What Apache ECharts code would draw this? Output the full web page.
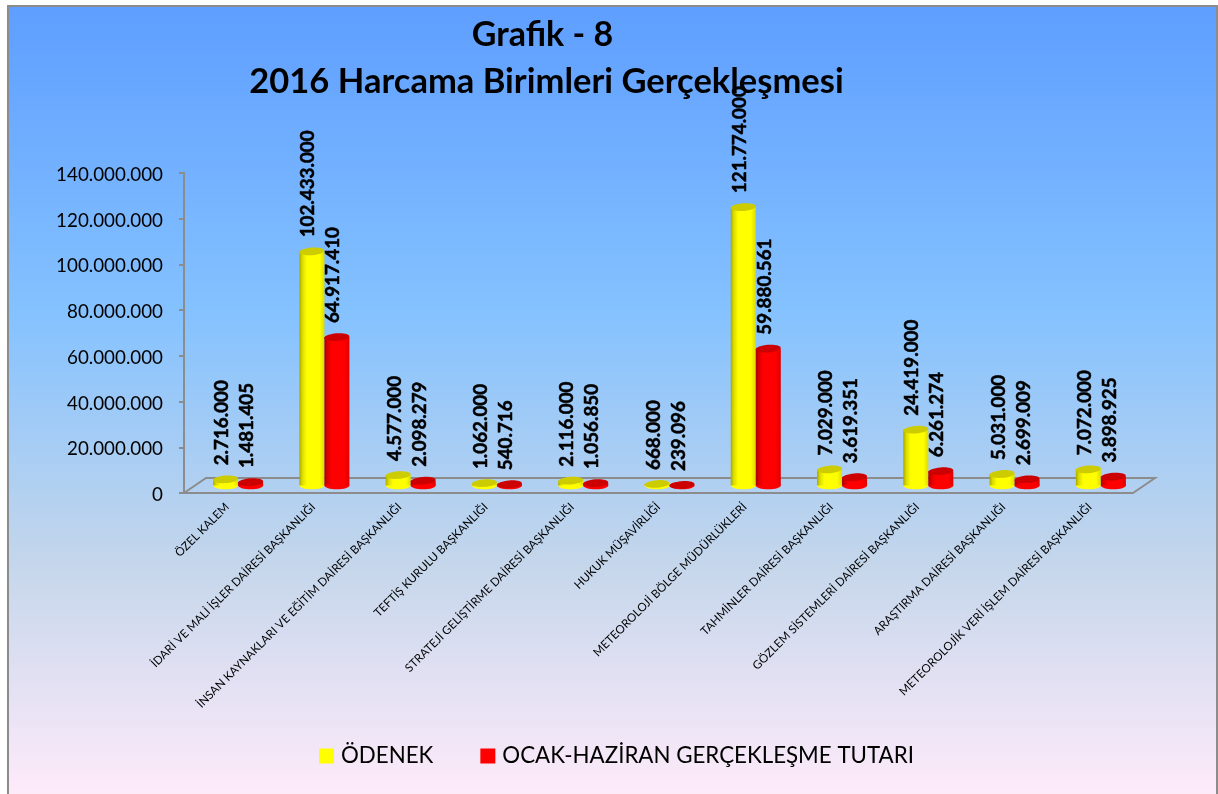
<!DOCTYPE html>
<html>
<head>
<meta charset="utf-8">
<title>Grafik - 8</title>
<script src="https://cdn.jsdelivr.net/npm/echarts@6/dist/echarts.min.js"></script>
<style>
  html, body { margin: 0; padding: 0; background: #fff; }
  #chart { width: 1218px; height: 794px; }
</style>
</head>
<body>
<div id="chart"></div>
<script>
const categories = [
  "ÖZEL KALEM",
  "İDARİ VE MALİ İŞLER DAİRESİ BAŞKANLIĞI",
  "İNSAN KAYNAKLARI VE EĞİTİM DAİRESİ BAŞKANLIĞI",
  "TEFTİŞ KURULU BAŞKANLIĞI",
  "STRATEJİ GELİŞTİRME DAİRESİ BAŞKANLIĞI",
  "HUKUK MÜŞAVİRLİĞİ",
  "METEOROLOJİ BÖLGE MÜDÜRLÜKLERİ",
  "TAHMİNLER DAİRESİ BAŞKANLIĞI",
  "GÖZLEM SİSTEMLERİ DAİRESİ BAŞKANLIĞI",
  "ARAŞTIRMA DAİRESİ BAŞKANLIĞI",
  "METEOROLOJİK VERİ İŞLEM DAİRESİ BAŞKANLIĞI"
];
const odenek = [2716000, 102433000, 4577000, 1062000, 2116000, 668000, 121774000, 7029000, 24419000, 5031000, 7072000];
const gerceklesme = [1481405, 64917410, 2098279, 540716, 1056850, 239096, 59880561, 3619351, 6261274, 2699009, 3898925];

const FONT = "Lato";
const AXIS_GREY = "#8c8c8c";
// 3d look: how far the floor runs back, and how high the bars stand on it
const DEPTH_X = 22, DEPTH_Y = 15, LIFT = 7.5;

function dots(v) {
  return String(v).replace(/\B(?=(\d{3})+$)/g, ".");
}

function cylinder(dark, mid, side, top, place) {
  return function (params, api) {
    const i = api.value(0), v = api.value(1);
    const p = api.coord([i, v]);
    const p0 = api.coord([i, 0]);
    const w = api.size([1, 0])[0] * 0.29;
    const cx = p[0] + 11 + place * w / 2;
    const yTop = p[1] - LIFT, yBase = p0[1] - LIFT;
    const rx = w / 2, ry = 3.8, tilt = 0.07;
    return {
      type: "group",
      children: [
        { type: "ellipse", shape: { cx: 0, cy: 0, rx: rx, ry: ry }, x: cx, y: yBase,
          style: { fill: mid } },
        { type: "rect", shape: { x: cx - rx, y: yTop, width: w, height: yBase - yTop },
          style: { fill: new echarts.graphic.LinearGradient(0, 0, 1, 0, [
            { offset: 0, color: dark },
            { offset: 0.12, color: side },
            { offset: 0.3, color: mid },
            { offset: 0.8, color: mid },
            { offset: 1, color: side }
          ]) } },
        { type: "ellipse", shape: { cx: 0, cy: 0, rx: rx, ry: ry }, x: cx, y: yTop, rotation: tilt,
          style: { fill: top } },
        // thin stroke: the rotated bold text comes out too light otherwise
        { type: "text", x: cx - 3.5, y: yTop - 14, rotation: Math.PI / 2,
          style: { text: dots(v), fill: "#000", stroke: "#000", lineWidth: 0.5, fontFamily: FONT, fontWeight: "bold", fontSize: 18.8, align: "left", verticalAlign: "middle" } }
      ]
    };
  };
}

function floor(params, api) {
  const r = params.coordSys;
  const x0 = r.x, x1 = r.x + r.width, y = r.y + r.height;
  return {
    type: "polyline",
    shape: { points: [[x0, y], [x0 + DEPTH_X, y - DEPTH_Y], [x1 + DEPTH_X, y - DEPTH_Y], [x1, y]] },
    style: { stroke: AXIS_GREY, lineWidth: 2, fill: "none" }
  };
}

const chart = echarts.init(document.getElementById("chart"));
chart.setOption({
  animation: false,
  backgroundColor: "#fff",
  graphic: [{
    type: "rect", z: -10, silent: true,
    shape: { x: 8, y: 6, width: 1209, height: 792 },
    style: {
      stroke: AXIS_GREY, lineWidth: 2,
      fill: new echarts.graphic.LinearGradient(0, 0, 0, 1, [
        { offset: 0, color: "#5e9eff" },
        { offset: 0.39, color: "#85c2ff" },
        { offset: 0.7, color: "#c4d6eb" },
        { offset: 1, color: "#ffebfa" }
      ])
    }
  }],
  title: [
    { text: "Grafik - 8", left: 537.5, top: 13, textAlign: "center",
      textStyle: { fontFamily: FONT, fontWeight: "bold", fontSize: 34, color: "#000" } },
    { text: "2016 Harcama Birimleri Gerçekleşmesi", left: 541.5, top: 59, textAlign: "center",
      textStyle: { fontFamily: FONT, fontWeight: "bold", fontSize: 34.5, color: "#000" } }
  ],
  legend: {
    data: ["ÖDENEK", "OCAK-HAZİRAN GERÇEKLEŞME TUTARI"],
    left: 314, top: 740,
    icon: "rect", itemWidth: 15, itemHeight: 15, itemGap: 47,
    textStyle: { fontFamily: FONT, fontSize: 22.3, color: "#000", padding: [0, 0, 0, 2] }
  },
  grid: { left: 184, top: 173, right: 85, bottom: 301 },
  xAxis: {
    type: "category",
    data: categories,
    axisLine: { lineStyle: { color: AXIS_GREY, width: 2 } },
    axisTick: { alignWithLabel: false, length: 4, lineStyle: { color: AXIS_GREY, width: 1 } },
    axisLabel: { interval: 0, rotate: 45, margin: 12, fontFamily: FONT, fontSize: 11.6, color: "#000" }
  },
  yAxis: {
    type: "value",
    min: 0, max: 140000000, interval: 20000000,
    axisLine: { show: true, lineStyle: { color: AXIS_GREY, width: 2 } },
    axisTick: { show: true, length: 5, lineStyle: { color: AXIS_GREY, width: 2 } },
    splitLine: { show: false },
    // top-aligned with a short line box, puts the text 2px under the tick like the original
    axisLabel: { margin: 21, verticalAlign: "top", lineHeight: 4, fontFamily: FONT, fontSize: 18.8, color: "#000", formatter: dots }
  },
  series: [
    { type: "custom", name: "floor", silent: true, z: 1, data: [[0, 0]], renderItem: floor },
    { type: "custom", name: "ÖDENEK", z: 3, clip: false, itemStyle: { color: "#ffff00" },
      data: odenek.map((v, i) => [i, v]), encode: { x: 0, y: 1 },
      renderItem: cylinder("#a8a800", "#ffff00", "#dcdc00", "#cccc00", -1) },
    { type: "custom", name: "OCAK-HAZİRAN GERÇEKLEŞME TUTARI", z: 4, clip: false, itemStyle: { color: "#ff0000" },
      data: gerceklesme.map((v, i) => [i, v]), encode: { x: 0, y: 1 },
      renderItem: cylinder("#a80000", "#ff0000", "#dc0000", "#cc0000", 1) }
  ]
});

window.onresize = function () {
  chart.resize();
};
</script>
</body>
</html>
